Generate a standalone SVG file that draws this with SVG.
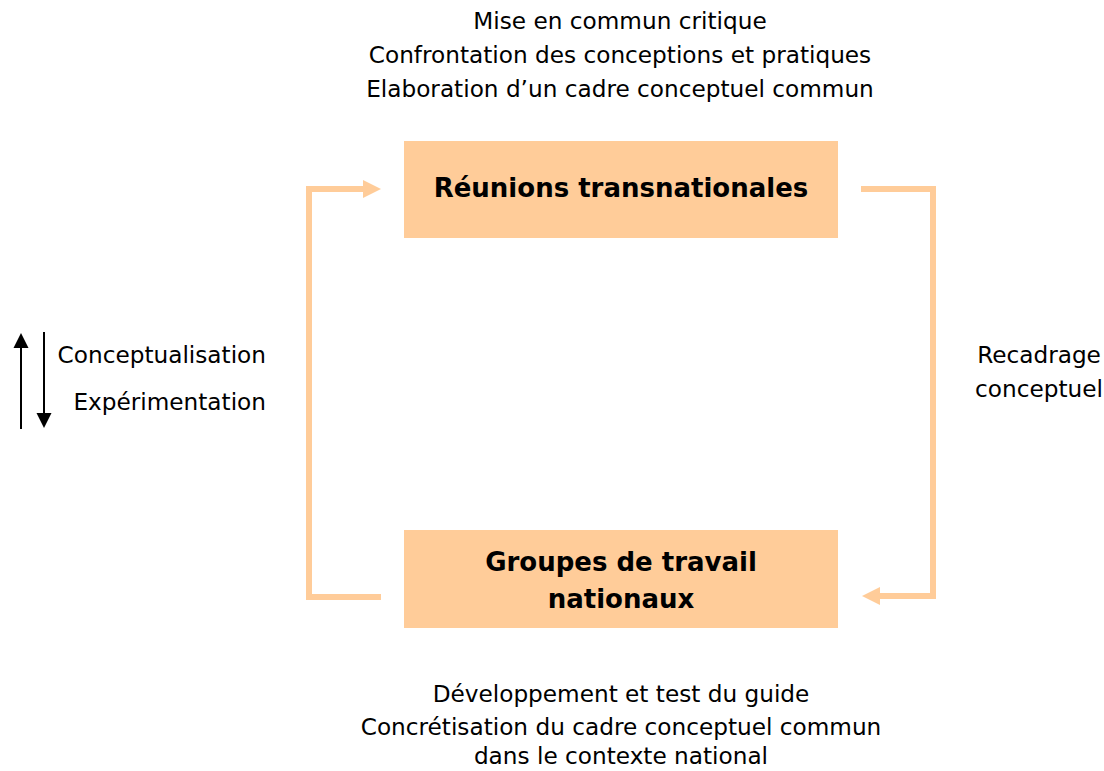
<svg xmlns="http://www.w3.org/2000/svg" width="1104" height="771" viewBox="0 0 1104 771">
  <style>
    .txt { font-family: "DejaVu Sans", Verdana, sans-serif; font-size: 23.2px; fill: #000; }
    .title { font-family: "DejaVu Sans", Verdana, sans-serif; font-size: 26px; font-weight: bold; fill: #000; }
    .box { fill: #FFCC99; }
    .flow { fill: none; stroke: #FFCC99; stroke-width: 6; }
    .head { fill: #FFCC99; }
    .axis { stroke: #000; stroke-width: 2; fill: none; }
  </style>

  <rect width="1104" height="771" fill="#fff"/>

  <!-- captions above the cycle -->
  <g id="top-notes" class="txt" text-anchor="middle">
    <text x="620" y="29">Mise en commun critique</text>
    <text x="620" y="63">Confrontation des conceptions et pratiques</text>
    <text x="620" y="97">Elaboration d’un cadre conceptuel commun</text>
  </g>

  <g id="reunions">
    <rect class="box" x="404" y="141" width="434" height="97"/>
    <text class="title" x="621" y="197" text-anchor="middle">Réunions transnationales</text>
  </g>

  <g id="groupes">
    <rect class="box" x="404" y="530" width="434" height="98"/>
    <text class="title" x="621" y="571" text-anchor="middle">Groupes de travail</text>
    <text class="title" x="621" y="608" text-anchor="middle">nationaux</text>
  </g>

  <g id="bottom-notes" class="txt" text-anchor="middle">
    <text x="621" y="702">Développement et test du guide</text>
    <text x="621" y="735">Concrétisation du cadre conceptuel commun</text>
    <text x="621" y="764">dans le contexte national</text>
  </g>

  <g id="recadrage" class="txt" text-anchor="middle">
    <text x="1039" y="363">Recadrage</text>
    <text x="1039" y="397">conceptuel</text>
  </g>

  <g id="axis-labels" class="txt" text-anchor="end">
    <text x="266" y="363">Conceptualisation</text>
    <text x="266" y="410">Expérimentation</text>
  </g>

  <g id="connectors">
    <!-- feedback loop: national groups back up to the transnational meetings -->
    <path class="flow" d="M381,597 H309 V189 H365"/>
    <polygon class="head" points="363,180 381,189 363,198"/>
    <!-- conceptual reframing: transnational meetings down to national groups -->
    <path class="flow" d="M861,189 H933 V596 H878"/>
    <polygon class="head" points="880,587 862,596 880,605"/>
    <!-- conceptualisation / experimentation axis -->
    <path class="axis" d="M21,429 V346"/>
    <polygon points="13.5,348 21,333 28.5,348" fill="#000"/>
    <path class="axis" d="M44,332 V415"/>
    <polygon points="36.5,413 44,428 51.5,413" fill="#000"/>
  </g>
</svg>
